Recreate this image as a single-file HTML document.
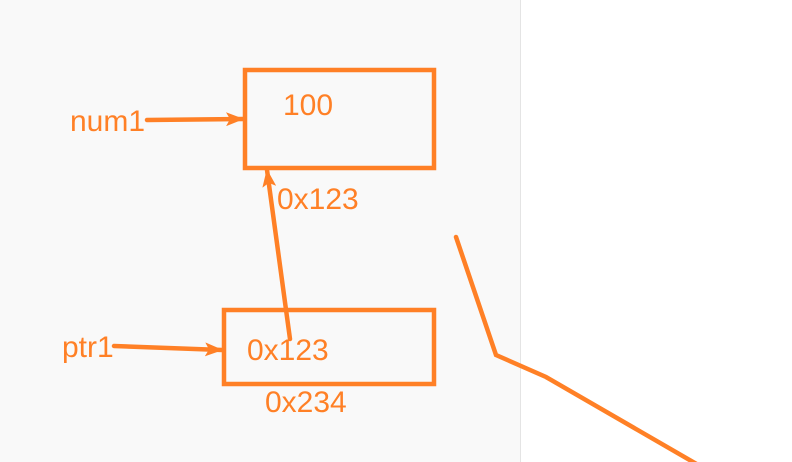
<!DOCTYPE html>
<html><head><meta charset="utf-8"><style>
html,body{margin:0;padding:0;width:792px;height:462px;overflow:hidden;background:#fff}
svg{display:block}
text{font-family:"Liberation Sans",sans-serif;font-size:30px;fill:#ff8026}
</style></head><body>
<svg width="792" height="462">
<defs>
<marker id="ah2" markerWidth="18" markerHeight="14" refX="17" refY="7" orient="auto" markerUnits="userSpaceOnUse"><path d="M0,0 L18,7 L0,14 L4,7 Z" fill="#ff8026"/></marker></defs>
<rect x="0" y="0" width="520" height="462" fill="#f9f9f9"/>
<line x1="520.5" y1="0" x2="520.5" y2="462" stroke="#e4e4e4"/>
<rect x="245" y="70" width="189" height="98" fill="none" stroke="#ff8026" stroke-width="4.5"/>
<rect x="224" y="310" width="210" height="74" fill="none" stroke="#ff8026" stroke-width="4.5"/>
<text x="283" y="115">100</text>
<text x="277" y="209">0x123</text>
<text x="70" y="131">num1</text>
<text x="62" y="357">ptr1</text>
<text x="247" y="360">0x123</text>
<text x="265" y="412">0x234</text>
<g stroke="#ff8026" stroke-width="4.5" fill="none" stroke-linecap="round">
<line x1="147" y1="120" x2="243" y2="119" marker-end="url(#ah2)"/>
<line x1="114" y1="346" x2="222" y2="350" marker-end="url(#ah2)"/>
<line x1="290" y1="339" x2="267" y2="170" marker-end="url(#ah2)"/>
<polyline points="456,237 496,355 546,377 700,466" stroke-linejoin="miter"/>
</g>
</svg>
</body></html>
